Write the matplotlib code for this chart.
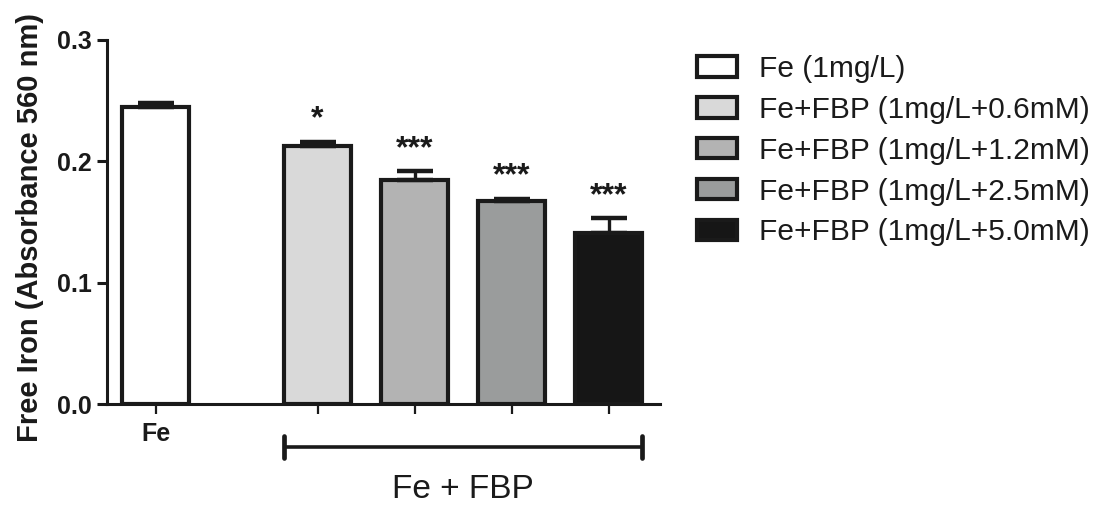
import matplotlib.pyplot as plt
from matplotlib.patches import Patch
from matplotlib.transforms import blended_transform_factory

plt.rcParams['font.family'] = ['Liberation Sans', 'DejaVu Sans']

# data
groups = ["Fe (1mg/L)", "Fe+FBP (1mg/L+0.6mM)", "Fe+FBP (1mg/L+1.2mM)",
          "Fe+FBP (1mg/L+2.5mM)", "Fe+FBP (1mg/L+5.0mM)"]
means = [0.245, 0.213, 0.185, 0.167, 0.141]
errors = [0.003, 0.003, 0.007, 0.002, 0.012]
stars = ["", "*", "***", "***", "***"]
colors = ["#ffffff", "#d9d9d9", "#b3b3b3", "#9a9c9c", "#161616"]
tick_labels = ["Fe", "", "", "", ""]
positions = [0, 1.67, 2.67, 3.67, 4.67]
bar_width = 0.69

ink = "#1a1a1a"

fig = plt.figure(figsize=(10.96, 5.12), dpi=100)
ax = fig.add_axes([107 / 1096, 1 - 404 / 512, (660 - 107) / 1096, 364 / 512])

ax.bar(positions, means, width=bar_width, color=colors, edgecolor=ink,
       linewidth=3.0, zorder=2)
ax.errorbar(positions, means, yerr=[[0] * len(errors), errors], fmt='none',
            ecolor=ink, elinewidth=2.4, capsize=13, capthick=3.2, zorder=3)

for x, m, e, s in zip(positions, means, errors, stars):
    if s:
        ax.text(x, m + e + 0.006, s, ha='center', va='bottom', fontsize=23,
                fontweight='bold', color=ink)

ax.set_xlim(-0.5, 5.2)
ax.set_ylim(0, 0.3)
ax.set_yticks([0.0, 0.1, 0.2, 0.3])
ax.set_yticklabels(["0.0", "0.1", "0.2", "0.3"], fontsize=18,
                   fontweight='bold', color=ink)
ax.set_xticks(positions)
ax.set_xticklabels(tick_labels, fontsize=18, fontweight='bold', color=ink)

for side in ['top', 'right']:
    ax.spines[side].set_visible(False)
for side in ['left', 'bottom']:
    ax.spines[side].set_linewidth(2.2)
    ax.spines[side].set_color(ink)
ax.tick_params(axis='y', length=7, width=2.2, pad=4, colors=ink)
ax.tick_params(axis='x', length=7, width=1.6, pad=6, colors=ink)

# bracket under the FBP group
trans = blended_transform_factory(ax.transData, ax.transAxes)
x0 = positions[1] - bar_width / 2
x1 = positions[-1] + bar_width / 2
yb = -0.118
ax.plot([x0, x1], [yb, yb], color=ink, lw=2.6, transform=trans, clip_on=False,
        solid_capstyle='butt')
for xx in (x0, x1):
    ax.plot([xx, xx], [yb - 0.031, yb + 0.031], color=ink, lw=3.4,
            transform=trans, clip_on=False, solid_capstyle='round')
ax.text((x0 + x1) / 2, -0.234, "Fe + FBP", transform=trans, ha='center',
        va='center', fontsize=24, color=ink)

fig.text(30 / 1096, 1 - 228 / 512, "Free Iron (Absorbance 560 nm)",
         rotation=90, ha='center', va='center', fontsize=21,
         fontweight='bold', color=ink)

handles = [Patch(facecolor=c, edgecolor=ink, linewidth=3.0) for c in colors]
fig.legend(handles, groups, loc='upper left',
           bbox_to_anchor=(697 / 1096, 1 - 55 / 512), frameon=False,
           fontsize=21.5, handlelength=1.35, handleheight=0.68,
           handletextpad=0.72, labelspacing=0.43, borderaxespad=0,
           borderpad=0, labelcolor=ink)

fig.savefig("out.png", dpi=100, facecolor='white')
